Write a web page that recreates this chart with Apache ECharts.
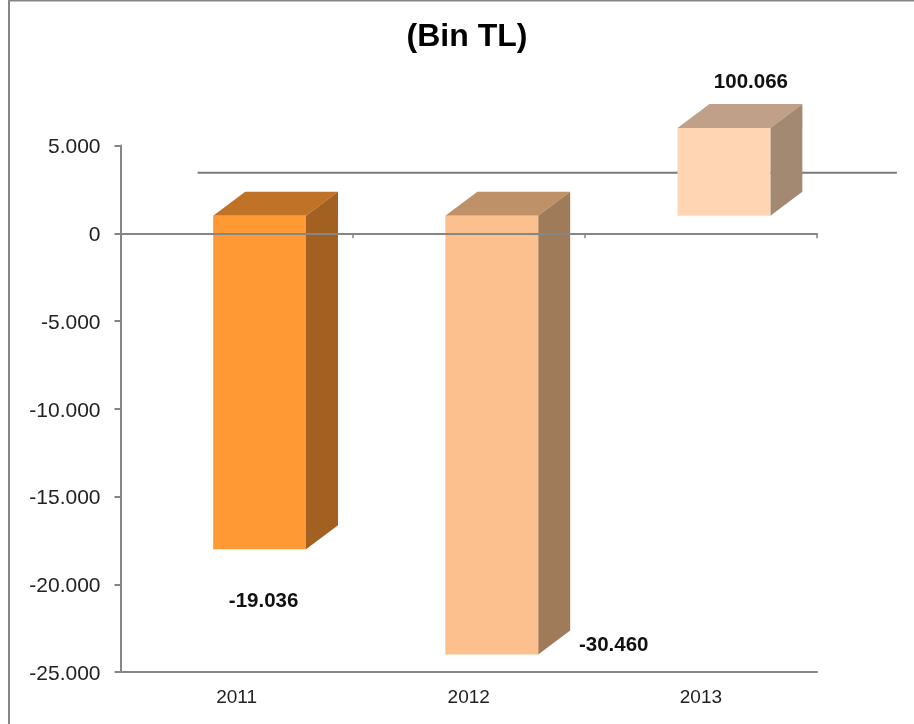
<!DOCTYPE html>
<html>
<head>
<meta charset="utf-8">
<style>html,body{margin:0;padding:0;background:#fff}#c{width:914px;height:724px}</style>
<script src="https://cdn.jsdelivr.net/npm/echarts@6/dist/echarts.min.js"></script>
</head>
<body>
<div id="c"></div>
<script>
const categories = ['2011', '2012', '2013'];
const barLow = [-18000, -24000, 1000];
const barHigh = [1000, 1000, 6000];
const labelTexts = ['-19.036', '-30.460', '100.066'];
const tickValues = [5000, 0, -5000, -10000, -15000, -20000, -25000];
const tickLabels = ['5.000', '0', '-5.000', '-10.000', '-15.000', '-20.000', '-25.000'];
const referenceLineValue = 3450;

const faceColors = ['#FF9933', '#FCC08E', '#FFD5B3'];
const topColors = ['#C07326', '#BF9169', '#C0A088'];
const sideColors = ['#A26120', '#A07B5A', '#A38972'];
const axisGrey = '#868686';
const FONT = '"Liberation Sans", Arial, sans-serif';
const DEPTH_X = 32, DEPTH_Y = 24, BAND_WIDTH_RATIO = 0.4, BAR_SHIFT = 23;
// label anchor: offset from bar centre x, and from the bar's bottom (or top) edge y
const labelOffsets = [[4, 52, 'bottom'], [122, -9, 'bottom'], [27, -46, 'top']];

const chart = echarts.init(document.getElementById('c'), null, {renderer: 'canvas'});

function renderBar(params, api) {
  const i = params.dataIndex;
  const band = api.size([1, 0])[0];
  const w = band * BAND_WIDTH_RATIO;
  const cx = api.coord([i, 0])[0] + BAR_SHIFT;
  const xl = cx - w / 2, xr = cx + w / 2;
  const yt = api.coord([i, barHigh[i]])[1];
  const yb = api.coord([i, barLow[i]])[1];
  const off = labelOffsets[i];
  return {
    type: 'group',
    children: [
      {type: 'polygon', shape: {points: [[xl, yt], [xl + DEPTH_X, yt - DEPTH_Y], [xr + DEPTH_X, yt - DEPTH_Y], [xr, yt]]}, style: {fill: topColors[i]}},
      {type: 'polygon', shape: {points: [[xr, yt], [xr + DEPTH_X, yt - DEPTH_Y], [xr + DEPTH_X, yb - DEPTH_Y], [xr, yb]]}, style: {fill: sideColors[i]}},
      {type: 'rect', shape: {x: xl, y: yt, width: w, height: yb - yt}, style: {fill: faceColors[i]}},
      {type: 'text', z2: 50, style: {
        x: cx + off[0],
        y: (off[2] === 'top' ? yt : yb) + off[1],
        text: labelTexts[i], fill: '#111', font: 'bold 20.5px ' + FONT, align: 'center', verticalAlign: 'middle'}}
    ]
  };
}

function renderReference(params, api) {
  const y = api.coord([0, referenceLineValue])[1];
  const a = api.coord([0, 0])[0];
  const b = api.coord([2, 0])[0];
  return {type: 'line', shape: {x1: a - 39, y1: y, x2: b + 196, y2: y}, style: {stroke: '#7a7a7a', lineWidth: 2}};
}

chart.setOption({
  animation: false,
  backgroundColor: '#fff',
  title: {text: '(Bin TL)', left: 462, top: 16, textAlign: 'center', textStyle: {fontFamily: FONT, fontWeight: 'bold', fontSize: 32, color: '#000'}},
  grid: {left: 120.5, right: 97, top: 145.5, bottom: 52},
  xAxis: [
    {type: 'category', data: categories, position: 'bottom', axisLine: {onZero: false, lineStyle: {color: axisGrey, width: 2}}, axisTick: {show: false},
      axisLabel: {color: '#222', fontFamily: FONT, fontSize: 19, margin: 16}},
    {type: 'category', data: categories, position: 'top', z: 10, axisLine: {onZero: true, lineStyle: {color: axisGrey, width: 2}},
      axisTick: {show: true, inside: true, length: 5, lineStyle: {color: axisGrey, width: 1.5}}, axisLabel: {show: false}}
  ],
  yAxis: {type: 'value', min: -25000, max: 5000, interval: 5000,
    axisLine: {show: true, onZero: false, lineStyle: {color: axisGrey, width: 2}},
    axisTick: {show: true, length: 6, lineStyle: {color: axisGrey, width: 2}},
    splitLine: {show: false},
    axisLabel: {margin: 20,
      formatter: v => '{t|' + tickLabels[tickValues.indexOf(v)] + '}',
      rich: {t: {color: '#222', fontFamily: FONT, fontSize: 21, padding: [4, 0, 0, 0]}}}},
  graphic: [{type: 'rect', silent: true, z: -1, shape: {x: 9, y: 0.5, width: 1000, height: 1000}, style: {fill: 'none', stroke: axisGrey, lineWidth: 2}}],
  series: [
    {type: 'custom', z: 1, clip: false, coordinateSystem: 'cartesian2d', renderItem: renderReference, data: [0]},
    {type: 'custom', z: 2, clip: false, coordinateSystem: 'cartesian2d', renderItem: renderBar, data: categories.map((c, i) => [i, barHigh[i]])}
  ]
});
</script>
</body>
</html>
